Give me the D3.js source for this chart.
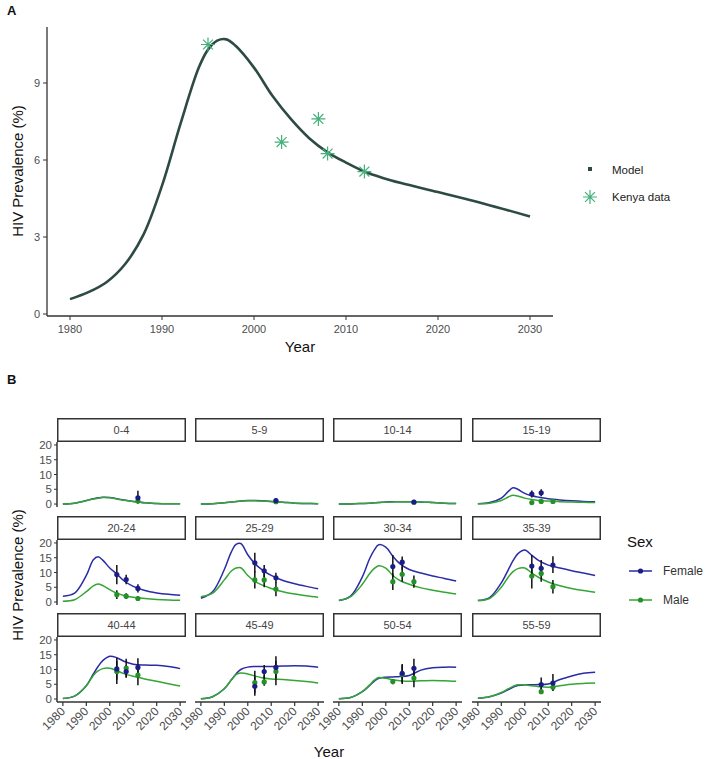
<!DOCTYPE html>
<html>
<head>
<meta charset="utf-8">
<script src="https://cdnjs.cloudflare.com/ajax/libs/d3/7.8.5/d3.min.js"></script>
<style>
  html, body { margin: 0; padding: 0; background: #fff; }
  svg { display: block; font-family: "Liberation Sans", Arial, sans-serif; }
</style>
</head>
<body>
<svg id="chart" width="714" height="759"></svg>
<script>
// ---------- Panel A data ----------
const modelYearsA = [1980,1982,1984,1986,1988,1990,1992,1994,1995,1996,1997,1998,2000,2002,2004,2006,2008,2010,2012,2014,2016,2020,2025,2030];
const modelValuesA = [0.58,0.85,1.25,1.95,3.1,5.0,7.4,9.6,10.3,10.65,10.7,10.45,9.6,8.5,7.6,6.85,6.3,5.9,5.55,5.3,5.1,4.75,4.3,3.8];
const kenyaYears = [1995,2003,2007,2008,2012];
const kenyaValues = [10.5,6.7,7.6,6.25,5.55];
const yTicksA = [0,3,6,9];
const xTicksA = [1980,1990,2000,2010,2020,2030];

// ---------- Panel B data ----------
const ageGroups = ["0-4","5-9","10-14","15-19","20-24","25-29","30-34","35-39","40-44","45-49","50-54","55-59"];
const modelYearsB = [1980,1985,1990,1993,1995,1997,2000,2003,2006,2010,2015,2020,2025,2030];
const femaleModel = [
  [0,0.3,1.2,1.8,2.1,2.3,2.2,1.8,1.4,0.9,0.4,0.2,0.1,0.1],
  [0,0.1,0.4,0.7,0.9,1.0,1.2,1.2,1.1,0.9,0.6,0.3,0.2,0.1],
  [0,0.05,0.2,0.3,0.4,0.5,0.7,0.8,0.8,0.8,0.7,0.5,0.3,0.2],
  [0.1,0.5,2.0,4.3,5.5,5.0,3.6,2.8,2.3,1.8,1.4,1.1,0.9,0.8],
  [2.0,3.0,9.0,14.3,15.3,14.2,11.5,9.5,7.2,5.3,3.9,3.1,2.6,2.3],
  [1.3,3.5,11,17,19.5,19.8,16,13,11,9,7.3,6.2,5.3,4.5],
  [0.5,2.0,8.5,14.5,17.5,19.4,18.6,15.5,13,11,9.8,8.8,8,7.1],
  [0.5,1.5,6.5,11,14,16.3,17.6,15.8,14,12.5,11.5,10.6,9.8,9],
  [0.2,1,4.5,8.5,11,13,14.5,14,12.8,11.8,11.5,11.4,11,10.3],
  [0.1,0.8,3.5,6.5,8.5,10,10.8,11,11,11,11.2,11.3,11.2,10.8],
  [0.1,0.5,2.5,4.5,6,7,7.4,7.5,7.6,8,9.8,10.6,10.8,10.8],
  [0.3,0.8,2,3.2,4,4.6,4.8,4.8,4.9,5.1,6.6,7.8,8.7,9.1]
];
const maleModel = [
  [0,0.3,1.1,1.7,2.0,2.2,2.1,1.7,1.3,0.9,0.4,0.2,0.1,0.1],
  [0,0.1,0.4,0.7,0.9,1.0,1.1,1.1,1.0,0.9,0.6,0.3,0.2,0.1],
  [0,0.05,0.2,0.3,0.4,0.5,0.6,0.7,0.8,0.8,0.7,0.5,0.3,0.2],
  [0.1,0.3,1.2,2.4,3.0,2.7,2.0,1.5,1.2,1.0,0.8,0.7,0.6,0.5],
  [0.3,0.8,3.5,5.5,6.1,5.6,4.2,3.0,2.2,1.6,1.2,0.9,0.7,0.6],
  [1.8,3,7.5,10.5,11.5,11.6,9,7,5.8,4.6,3.5,2.7,2.1,1.6],
  [0.5,1.8,6,9.5,11.3,12.3,11.5,9,7.3,6,4.8,4,3.3,2.7],
  [0.5,1.2,5,8.5,10.3,11.3,11.5,9.8,8.3,6.8,5.5,4.6,3.9,3.3],
  [0.2,1,4.5,8,9.5,10.3,10.4,9.6,8.6,7.7,6.8,6,5.2,4.4],
  [0.1,0.8,3.5,6.5,8.3,8.8,8.5,7.8,7.2,6.8,6.6,6.3,5.9,5.4],
  [0.1,0.5,2.5,4.7,6.3,7.3,7,6.5,6.2,6.0,6.2,6.3,6.2,6.0],
  [0.3,0.8,2.2,3.5,4.3,4.8,4.8,4.5,4.2,4.0,4.5,5,5.3,5.4]
];
// survey points: [year, value, lower, upper]
const femaleSurvey = [
  [[2012,2.1,0.2,4.5]],
  [[2012,1.2,0.5,1.9]],
  [[2012,0.7,0.3,1.1]],
  [[2003,3.4,2.2,4.6],[2007,3.8,2.6,5.0]],
  [[2003,9.3,6.0,12.5],[2007,7.6,6.0,9.2],[2012,4.6,3.2,6.0]],
  [[2003,13.3,10,16.7],[2007,10.6,8.5,12.5],[2012,8.2,6.5,9.9]],
  [[2003,12,8.5,15.9],[2007,13.5,11,15.4]],
  [[2003,12.2,9,15.9],[2007,11.4,9,14.2],[2012,12.5,9.8,15.5]],
  [[2003,10.2,6.5,13.9],[2007,9.3,7.2,11.5],[2012,10.7,7.6,13.8]],
  [[2003,4.3,1.1,7.5],[2007,9.3,7,11.5],[2012,10.7,7,14.5]],
  [[2007,8.7,5.5,11.9],[2012,10.4,7.2,13.6]],
  [[2007,4.9,2.5,7.3],[2012,5.4,2.8,8.5]]
];
const maleSurvey = [
  [[2012,1.0,0.3,1.7]],
  [[2012,0.8,0.3,1.3]],
  [[2012,0.6,0.2,1.0]],
  [[2003,0.5,0.1,0.9],[2007,0.9,0.4,1.4],[2012,0.9,0.4,1.4]],
  [[2003,2.5,1.0,4.0],[2007,2.0,1.0,3.0],[2012,1.2,0.4,2.0]],
  [[2003,7.5,4.6,10.4],[2007,7.5,5,10],[2012,4.4,2,6.8]],
  [[2003,6.9,4.1,9.7],[2007,9.4,6.9,12],[2012,6.9,4.8,9]],
  [[2003,8.8,4.6,12],[2007,9.7,6.9,12.4],[2012,5.2,2.9,7.5]],
  [[2003,9.3,5.1,13],[2007,10.5,7.4,13.6],[2012,8.1,4.7,11.5]],
  [[2003,5.6,2,9.6],[2007,5.8,4.5,8],[2012,9.3,4.7,13]],
  [[2003,5.9,5.0,6.8],[2007,8.3,5.1,11.5],[2012,7.1,4.0,10.2]],
  [[2007,2.5,1.7,3.8],[2012,4.0,2.8,6]]
];
const yTicksB = [0,5,10,15,20];
const xTicksB = [1980,1990,2000,2010,2020,2030];
const sexLabels = ["Female","Male"];

// ---------- styles ----------
const axisCol = "#333";
const tickTextCol = "#4d4d4d";
const modelColA = "#2e4a45";
const kenyaCol = "#45b07a";
const femaleCol = "#2b2ba6";
const femalePt = "#1c1c88";
const maleCol = "#35a535";
const malePt = "#23902a";

const svg = d3.select("#chart");

// ================= Panel A =================
svg.append("text").attr("x",7).attr("y",15).attr("font-size",13).attr("font-weight","bold").attr("fill","#111").text("A");

const xA = d3.scaleLinear().domain([1977.5,2032.5]).range([47,553]);
const yA = d3.scaleLinear().domain([0,9]).range([314,83]);
const gA = svg.append("g");

gA.append("line").attr("x1",47).attr("x2",553).attr("y1",316).attr("y2",316).attr("stroke",axisCol).attr("stroke-width",1.3);
gA.append("line").attr("x1",47).attr("x2",47).attr("y1",27).attr("y2",316).attr("stroke",axisCol).attr("stroke-width",1.3);
xTicksA.forEach(t => {
  gA.append("line").attr("x1",xA(t)).attr("x2",xA(t)).attr("y1",316).attr("y2",320).attr("stroke",axisCol);
  gA.append("text").attr("x",xA(t)).attr("y",333).attr("text-anchor","middle").attr("font-size",11).attr("fill",tickTextCol).text(t);
});
yTicksA.forEach(t => {
  gA.append("line").attr("x1",43).attr("x2",47).attr("y1",yA(t)).attr("y2",yA(t)).attr("stroke",axisCol);
  gA.append("text").attr("x",40).attr("y",yA(t)+4).attr("text-anchor","end").attr("font-size",11).attr("fill",tickTextCol).text(t);
});
gA.append("text").attr("x",xA(2005)).attr("y",352).attr("text-anchor","middle").attr("font-size",15).attr("fill","#111").text("Year");
gA.append("text").attr("transform","translate(23,171) rotate(-90)").attr("text-anchor","middle").attr("font-size",15).attr("fill","#111").text("HIV Prevalence (%)");

const lineA = d3.line().x(d => xA(d[0])).y(d => yA(d[1])).curve(d3.curveCatmullRom.alpha(0.5));
gA.append("path").datum(modelYearsA.map((y,i)=>[y,modelValuesA[i]]))
  .attr("d",lineA).attr("fill","none").attr("stroke",modelColA).attr("stroke-width",2.6);

function asterisk(r){
  const a = r*Math.SQRT1_2;
  return `M${-r},0L${r},0M0,${-r}L0,${r}M${-a},${-a}L${a},${a}M${-a},${a}L${a},${-a}`;
}
gA.selectAll(".kenya").data(kenyaYears.map((y,i)=>[y,kenyaValues[i]])).enter().append("path")
  .attr("transform",d=>`translate(${xA(d[0])},${yA(d[1])})`)
  .attr("d",asterisk(7)).attr("stroke",kenyaCol).attr("stroke-width",1.2).attr("fill","none");

// legend A
gA.append("rect").attr("x",588).attr("y",167).attr("width",4).attr("height",4).attr("fill",modelColA);
gA.append("text").attr("x",612).attr("y",174).attr("font-size",11.5).attr("fill","#222").text("Model");
gA.append("path").attr("transform","translate(590,197)").attr("d",asterisk(7)).attr("stroke",kenyaCol).attr("stroke-width",1.2).attr("fill","none");
gA.append("text").attr("x",612).attr("y",201).attr("font-size",11.5).attr("fill","#222").text("Kenya data");

// ================= Panel B =================
svg.append("text").attr("x",7).attr("y",384).attr("font-size",13).attr("font-weight","bold").attr("fill","#111").text("B");

const colLeft = [57,195,333,472];
const panelW = 129;
const stripTop = [418,516,613];
const stripH = 24;
const panelH = 65;

const gB = svg.append("g");
ageGroups.forEach((ag,i) => {
  const c = i % 4, r = Math.floor(i/4);
  const left = colLeft[c];
  const st = stripTop[r];
  const pTop = st + stripH;
  const pBot = pTop + panelH;
  const x = d3.scaleLinear().domain([1977.5,2032.5]).range([left,left+panelW]);
  const y = d3.scaleLinear().domain([-1,21]).range([pBot,pTop]);
  const g = gB.append("g");

  g.append("rect").attr("x",left+0.75).attr("y",st+0.75).attr("width",panelW-1.5).attr("height",stripH-1.5)
    .attr("fill","#fff").attr("stroke","#333").attr("stroke-width",1.5);
  g.append("text").attr("x",left+panelW/2).attr("y",st+stripH/2+4).attr("text-anchor","middle")
    .attr("font-size",11).attr("fill","#444").text(ag);

  if (c === 0) {
    g.append("line").attr("x1",left).attr("x2",left).attr("y1",pTop).attr("y2",pBot).attr("stroke",axisCol).attr("stroke-width",1.5);
    yTicksB.forEach(t => {
      g.append("line").attr("x1",left-3).attr("x2",left).attr("y1",y(t)).attr("y2",y(t)).attr("stroke",axisCol);
      g.append("text").attr("x",left-5).attr("y",y(t)+4).attr("text-anchor","end").attr("font-size",11.5).attr("fill",tickTextCol).text(t);
    });
  }
  if (r === 2) {
    g.append("line").attr("x1",left).attr("x2",left+panelW).attr("y1",pBot).attr("y2",pBot).attr("stroke",axisCol).attr("stroke-width",1.5);
    xTicksB.forEach(t => {
      g.append("line").attr("x1",x(t)).attr("x2",x(t)).attr("y1",pBot).attr("y2",pBot+4).attr("stroke",axisCol).attr("stroke-width",1.2);
      g.append("text").attr("transform",`translate(${x(t)+3},${pBot+10}) rotate(-45)`).attr("text-anchor","end")
        .attr("font-size",12).attr("fill",tickTextCol).text(t);
    });
  }

  const line = d3.line().x(d => x(d[0])).y(d => y(d[1])).curve(d3.curveCatmullRom.alpha(0.5));
  g.append("path").datum(modelYearsB.map((yr,k)=>[yr,femaleModel[i][k]]))
    .attr("d",line).attr("fill","none").attr("stroke",femaleCol).attr("stroke-width",1.5);
  g.append("path").datum(modelYearsB.map((yr,k)=>[yr,maleModel[i][k]]))
    .attr("d",line).attr("fill","none").attr("stroke",maleCol).attr("stroke-width",1.5);

  const all = femaleSurvey[i].concat(maleSurvey[i]);
  all.forEach(d => {
    g.append("line").attr("x1",x(d[0])).attr("x2",x(d[0])).attr("y1",y(d[2])).attr("y2",y(d[3]))
      .attr("stroke","#111").attr("stroke-width",1.5);
  });
  maleSurvey[i].forEach(d => {
    g.append("circle").attr("cx",x(d[0])).attr("cy",y(d[1])).attr("r",2.6).attr("fill",malePt);
  });
  femaleSurvey[i].forEach(d => {
    g.append("circle").attr("cx",x(d[0])).attr("cy",y(d[1])).attr("r",2.6).attr("fill",femalePt);
  });
});

gB.append("text").attr("x",329).attr("y",757).attr("text-anchor","middle").attr("font-size",15).attr("fill","#111").text("Year");
gB.append("text").attr("transform","translate(23,575) rotate(-90)").attr("text-anchor","middle").attr("font-size",15).attr("fill","#111").text("HIV Prevalence (%)");

gB.append("text").attr("x",627).attr("y",547).attr("font-size",15).attr("fill","#111").text("Sex");
[femaleCol, maleCol].forEach((col,k) => {
  const ly = 571 + k*29;
  gB.append("line").attr("x1",629).attr("x2",652).attr("y1",ly).attr("y2",ly).attr("stroke",col).attr("stroke-width",1.5);
  gB.append("circle").attr("cx",640.5).attr("cy",ly).attr("r",2.6).attr("fill",k===0?femalePt:malePt);
  gB.append("text").attr("x",663).attr("y",ly+4).attr("font-size",12).attr("fill","#333").text(sexLabels[k]);
});
</script>
</body>
</html>
